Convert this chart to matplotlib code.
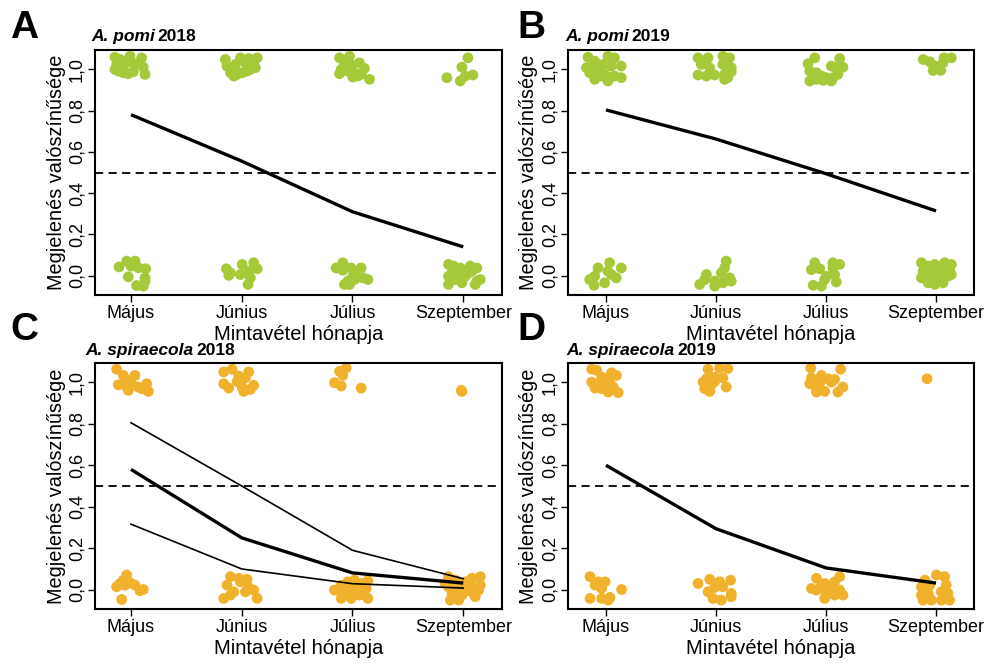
import numpy as np
import matplotlib
matplotlib.use("Agg")
import matplotlib.pyplot as plt

plt.rcParams['font.family'] = ['Liberation Sans', 'DejaVu Sans']

months = ['Május', 'Június', 'Július', 'Szeptember']
yticks = [0.0, 0.2, 0.4, 0.6, 0.8, 1.0]
ytick_labels = ['0,0', '0,2', '0,4', '0,6', '0,8', '1,0']

green = '#a6c93a'
orange = '#f0b22c'

# A. pomi 2018 -- observations per month (jitter offset, value)
pomi18_dx = [
    [-0.145, -0.099, -0.009, 0.096, -0.13, -0.054, 0.03, 0.111, -0.114, -0.069, -0.024, 0.021, 0.127, -0.145, -0.084,
     -0.108, -0.039, 0.036, 0.0, 0.066, 0.133, -0.024, 0.127, 0.051, 0.111, 0.127],
    [-0.148, -0.012, 0.063, 0.139, -0.133, -0.057, 0.033, 0.108, -0.102, -0.042, 0.003, 0.078, 0.123, -0.072, 0.048,
     -0.139, -0.102, 0.003, 0.108, 0.139, -0.012, 0.063, 0.078, 0.057, -0.117],
    [-0.117, -0.027, -0.072, -0.012, 0.063, 0.108, -0.102, -0.042, 0.018, 0.078, -0.117, 0.003, 0.048, 0.154, -0.012,
     -0.148, -0.087, -0.087, -0.012, 0.078, 0.048, 0.093, 0.139, 0.003, -0.042, -0.072, -0.027, 0.018],
    [0.042, -0.012, -0.148, -0.027, 0.018, 0.087,
     -0.133, -0.087, -0.042, 0.063, 0.123, 0.078, 0.018, -0.133, -0.072, -0.012, -0.133, 0.123, 0.154, 0.108, -0.042,
     0.048, -0.102, -0.027],
]
pomi18_y = [
    [1.058, 1.047, 1.063, 1.055, 1.023, 1.026, 1.026, 1.01, 0.991, 0.983, 0.978, 0.988, 0.975, 0.999, 1.039,
     0.043, 0.071, 0.071, 0.047, 0.039, 0.034, -0.005, -0.01, -0.047, -0.05, -0.026],
    [1.047, 1.055, 1.052, 1.055, 1.015, 1.023, 1.031, 1.026, 0.983, 0.975, 0.983, 0.999, 1.007, 0.967, 0.991,
     0.034, 0.014, 0.055, 0.063, 0.034, 0.006, 0.022, -0.01, -0.042, 0.002],
    [1.055, 1.063, 1.023, 1.023, 1.031, 1.004, 0.999, 0.991, 0.983, 0.975, 0.978, 0.962, 0.967, 0.951, 1.007,
     0.038, 0.027, 0.063, 0.038, 0.038, 0.014, -0.01, -0.018, -0.002, -0.026, -0.042, -0.042, -0.018],
    [1.055, 1.01, 0.959, 0.943, 0.967, 0.972,
     0.055, 0.047, 0.022, 0.047, 0.038, 0.022, -0.002, -0.002, -0.018, -0.034, -0.042, -0.026, -0.018, -0.042, 0.006,
     0.014, 0.014, 0.038],
]
pomi18_fit = [0.78, 0.555, 0.31, 0.14]

# A. pomi 2019
pomi19_dx = [
    [-0.163, -0.102, 0.018, 0.078, -0.178, -0.117, -0.027, 0.048, 0.139, -0.148, -0.072, -0.012, 0.033, 0.078, 0.139,
     -0.102, 0.018, -0.042,
     -0.072, -0.102, -0.148, -0.108, 0.033, 0.018, 0.093, 0.139, -0.012, 0.048],
    [-0.163, -0.072, 0.063, 0.123, -0.133, -0.057, 0.063, 0.139, -0.163, -0.087, -0.012, 0.078, 0.139, 0.078, 0.108,
     0.093, 0.078, 0.048, 0.123, 0.139, -0.087, -0.102, -0.148, -0.012, -0.012, 0.063],
    [-0.102, 0.124, -0.163, -0.148, 0.048, 0.154, -0.087, -0.042, 0.003, 0.063, 0.108, -0.087, -0.027, 0.048, -0.148,
     0.093,
     -0.102, -0.133, -0.057, 0.063, 0.124, 0.003, -0.012, 0.078, 0.093, -0.117, -0.042, 0.063],
    [-0.117, -0.057, -0.012, 0.072, 0.139, 0.063, -0.027, 0.042,
     -0.133, -0.072, -0.012, 0.078, 0.139, -0.117, -0.042, 0.048, 0.123, -0.133, -0.057, 0.018, 0.108, -0.012, -0.072,
     0.063, 0.139],
]
pomi19_y = [
    [1.058, 1.039, 1.063, 1.055, 1.007, 1.015, 1.023, 1.015, 1.015, 0.983, 0.999, 0.975, 0.959, 0.967, 0.959, 0.951,
     0.943, 0.967,
     0.038, -0.002, -0.018, -0.046, 0.063, 0.022, -0.01, 0.038, -0.034, 0.006],
    [1.055, 1.055, 1.063, 1.055, 1.023, 1.007, 1.023, 1.007, 0.972, 0.967, 0.972, 0.975, 0.988, 0.951, 0.959,
     0.071, 0.038, 0.014, -0.01, -0.026, 0.006, -0.018, -0.042, -0.026, -0.05, -0.034],
    [1.055, 1.052, 1.026, 0.991, 1.015, 1.01, 0.983, 0.967, 0.959, 0.959, 0.975, 0.951, 0.946, 0.943, 0.943, 1.007,
     0.063, 0.03, 0.034, 0.063, 0.055, -0.002, -0.018, 0.006, -0.03, -0.046, -0.05, 0.038],
    [1.047, 1.036, 1.015, 1.055, 1.055, 1.031, 0.994, 0.994,
     0.063, 0.047, 0.055, 0.063, 0.055, 0.022, 0.014, 0.022, 0.03, -0.01, -0.018, -0.002, -0.002, -0.042, -0.034,
     -0.034, 0.006],
]
pomi19_fit = [0.803, 0.662, 0.494, 0.314]

# A. spiraecola 2018
spir18_dx = [
    [-0.13, -0.069, 0.036, -0.024, -0.114, -0.054, 0.006, 0.066, 0.142, -0.024, 0.157, 0.096,
     -0.039, -0.069, -0.099, -0.13, -0.009, 0.036, 0.081, 0.111, -0.084, -0.054],
    [-0.163, -0.087, -0.027, 0.063, -0.042, 0.033, -0.163, -0.117, 0.018, 0.078, 0.108, 0.003,
     -0.102, -0.027, 0.048, -0.133, -0.012, 0.063, 0.108, -0.163, -0.072, -0.102, 0.033, 0.139],
    [-0.057, -0.117, -0.087, -0.163, -0.102, 0.078,
     -0.163, -0.102, -0.042, 0.018, 0.078, 0.139, -0.087, -0.012, 0.063, 0.124, -0.102, -0.012, 0.063, 0.139, -0.042,
     0.033, -0.072, 0.093],
    [-0.018, -0.012,
     -0.133, -0.072, 0.018, 0.078, 0.154, -0.133, -0.042, 0.078, 0.139, -0.102, -0.012, 0.108, -0.117, -0.042, 0.078,
     0.033, -0.163, 0.154],
]
spir18_y = [
    [1.063, 1.033, 1.033, 1.009, 0.988, 0.985, 0.993, 0.977, 0.993, 0.961, 0.956, 0.969,
     0.071, 0.046, 0.03, 0.014, 0.034, 0.022, -0.005, 0.001, -0.047, 0.022],
    [1.05, 1.063, 1.03, 1.05, 1.004, 1.021, 0.993, 0.972, 0.956, 0.966, 0.985, 0.977,
     0.063, 0.055, 0.05, 0.022, 0.038, 0.011, -0.002, -0.042, -0.01, -0.026, -0.01, -0.042],
    [1.069, 1.053, 1.033, 0.998, 0.982, 0.972,
     -0.002, 0.022, 0.038, 0.046, 0.03, 0.043, -0.01, -0.005, -0.002, 0.006, -0.042, -0.042, -0.026, -0.042, 0.014,
     0.022, -0.026, -0.015],
    [0.961, 0.956,
     0.063, 0.046, 0.038, 0.055, 0.063, 0.014, 0.006, 0.014, -0.002, -0.018, -0.026, -0.034, -0.05, -0.05, -0.01,
     -0.002, 0.03, 0.022],
]
spir18_fit = [0.58, 0.25, 0.081, 0.032]
spir18_hi = [0.805, 0.50, 0.19, 0.053]
spir18_lo = [0.316, 0.10, 0.029, 0.008]

# A. spiraecola 2019
spir19_dx = [
    [-0.13, -0.084, 0.051, 0.096, -0.039, 0.021, -0.13, -0.069, -0.009, 0.036, -0.099, -0.039, 0.021, 0.111, 0.066,
     -0.145, -0.069, -0.009, -0.099, -0.039, 0.142, -0.145, -0.039, 0.036, 0.021],
    [-0.072, 0.033, 0.108, -0.087, -0.012, 0.063, -0.117, -0.042, -0.102, -0.057, 0.093, -0.012,
     -0.163, -0.057, 0.033, 0.133, -0.012, 0.063, -0.072, 0.139, -0.027, 0.048, 0.139],
    [-0.139, 0.133, -0.133, -0.042, 0.018, 0.078, -0.148, -0.057, 0.048, -0.087, -0.087, -0.012, 0.108, 0.154,
     -0.087, -0.012, 0.078, 0.124, -0.133, -0.042, 0.048, 0.124, 0.003, 0.078, -0.012, 0.154, -0.087],
    [-0.081,
     -0.133, -0.102, -0.057, 0.003, 0.078, 0.093, 0.048, -0.133, -0.117, -0.042, 0.048, 0.123, 0.108, -0.072],
]
spir19_y = [
    [1.063, 1.058, 1.046, 1.033, 1.025, 1.021, 1.001, 0.993, 0.985, 0.998, 0.972, 0.969, 0.953, 0.95, 0.977,
     0.063, 0.038, 0.038, 0.022, 0.006, 0.001, -0.042, -0.042, -0.037, -0.05],
    [1.063, 1.069, 1.066, 1.017, 1.025, 1.021, 1.001, 0.988, 0.969, 0.956, 0.977, 1.004,
     0.03, 0.05, 0.038, 0.046, 0.011, 0.014, -0.01, -0.018, -0.042, -0.05, -0.034],
    [1.069, 1.063, 1.021, 1.033, 1.017, 1.014, 0.993, 0.998, 1.001, 0.969, 0.953, 0.956, 0.953, 0.977,
     0.055, 0.03, 0.038, 0.063, 0.006, 0.017, 0.014, -0.002, -0.018, -0.026, -0.042, -0.026, -0.002],
    [1.017,
     0.014, 0.046, 0.022, 0.071, 0.063, 0.022, -0.01, -0.026, -0.05, -0.05, -0.05, -0.05, -0.018, -0.018],
]
spir19_fit = [0.60, 0.294, 0.105, 0.032]

W, H = 993, 663
fig = plt.figure(figsize=(W / 100, H / 100), dpi=100)


def px_axes(x0, y0, x1, y1):
    return fig.add_axes([x0 / W, 1 - y1 / H, (x1 - x0) / W, (y1 - y0) / H])


def panel(ax, dx, yv, colour, fit, xlim, ci=None):
    for i in range(4):
        xs = np.array(dx[i]) + i + 1
        ax.scatter(xs, yv[i], s=60, color=colour, edgecolors='none', zorder=2)
    x = np.arange(1, 5)
    ax.axhline(0.5, color='black', lw=1.3, ls=(0, (4.5, 3)), zorder=1)
    if ci is not None:
        for c in ci:
            ax.plot(x, c, color='black', lw=1.2, zorder=3)
    ax.plot(x, fit, color='black', lw=2.4, zorder=3, solid_capstyle='butt')
    ax.set_xlim(*xlim)
    ax.set_ylim(-0.093, 1.093)
    ax.set_xticks(x)
    ax.set_xticklabels(months, fontsize=13)
    ax.set_yticks(yticks)
    ax.set_yticklabels(ytick_labels, fontsize=13, rotation=90, va='center')
    ax.tick_params(length=5, width=1, pad=2)
    for sp in ax.spines.values():
        sp.set_linewidth(1.5)
    ax.set_ylabel('Megjelenés valószínűsége', fontsize=14.3, labelpad=2)
    ax.set_xlabel('Mintavétel hónapja', fontsize=14.5, labelpad=2)


axA = px_axes(95, 50, 502, 295)
axB = px_axes(568, 50, 974, 295)
axC = px_axes(95, 363, 502, 609)
axD = px_axes(568, 363, 974, 609)

panel(axA, pomi18_dx, pomi18_y, green, pomi18_fit, (0.675, 4.35))
panel(axB, pomi19_dx, pomi19_y, green, pomi19_fit, (0.655, 4.345))
panel(axC, spir18_dx, spir18_y, orange, spir18_fit, (0.675, 4.35), ci=[spir18_hi, spir18_lo])
panel(axD, spir19_dx, spir19_y, orange, spir19_fit, (0.655, 4.345))

# panel letters and two-part titles (italic species name, plain year)
letters = [('A', 10, 38), ('B', 517, 38), ('C', 10, 340), ('D', 517, 340)]
for lab, x, y in letters:
    fig.text(x / W, 1 - y / H, lab, fontsize=28, fontweight='bold', va='baseline')

titles = [('A. pomi', '2018', 91, 41), ('A. pomi', '2019', 565, 41),
          ('A. spiraecola', '2018', 85, 355), ('A. spiraecola', '2019', 566, 355)]
fig.canvas.draw()
r = fig.canvas.get_renderer()
for sp, yr, x, y in titles:
    t = fig.text(x / W, 1 - y / H, sp, fontsize=12.5, fontweight='bold', style='italic', va='baseline')
    bb = t.get_window_extent(renderer=r)
    fig.text((bb.x1 + 3) / W, 1 - y / H, yr, fontsize=12.5, fontweight='bold', va='baseline')

fig.savefig('out.png', dpi=100)
